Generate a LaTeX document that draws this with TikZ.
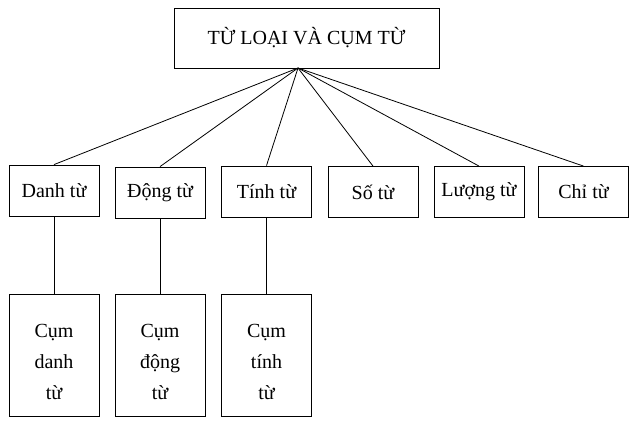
\documentclass[tikz,border=0pt]{standalone}
\usepackage{fontspec}
\setmainfont{Liberation Serif}
\newcommand\toppad{\rule{0pt}{20.5pt}}
\tikzset{
  wordbox/.style={draw, line width=0.6pt, minimum width=67.5pt, minimum height=38.25pt,
    inner sep=1pt, font=\fontsize{15}{23.25}\selectfont},
  phrasebox/.style={wordbox, minimum height=91.5pt, align=center}
}
\begin{document}
\begin{tikzpicture}[x=0.75pt,y=-0.75pt]
      \useasboundingbox (0,0) rectangle (632,421);
      \draw
        (306.5,38) node[wordbox, minimum width=198.75pt, minimum height=45pt] (top){TỪ LOẠI VÀ CỤM TỪ}
        (54,190.5) node[wordbox] (danh){Danh từ}
        (160,192.5) node[wordbox] (dong){Động từ}
        (266.5,191.5) node[wordbox] (tinh){Tính từ}
        (373,192) node[wordbox] (so){Số từ}
        (479,192) node[wordbox] (luong){Lượng từ}
        (583.5,192) node[wordbox] (chi){Chỉ từ}
        (54,355) node[phrasebox] (cdanh){\toppad Cụm\\danh\\từ}
        (160,355) node[phrasebox] (cdong){\toppad Cụm\\động\\từ}
        (266.5,355) node[phrasebox] (ctinh){\toppad Cụm\\tính\\từ};
      \coordinate (hub) at (298,68);
      \begin{scope}[line width=0.6pt]
        \draw (hub) to (danh.north);
        \draw (hub) to (dong.north);
        \draw (hub) to (tinh.north);
        \draw (hub) to (so.north);
        \draw (hub) to (luong.north);
        \draw (hub) to (chi.north);
        \draw (danh) to (cdanh);
        \draw (dong) to (cdong);
        \draw (tinh) to (ctinh);
      \end{scope}
    \end{tikzpicture}
\end{document}
